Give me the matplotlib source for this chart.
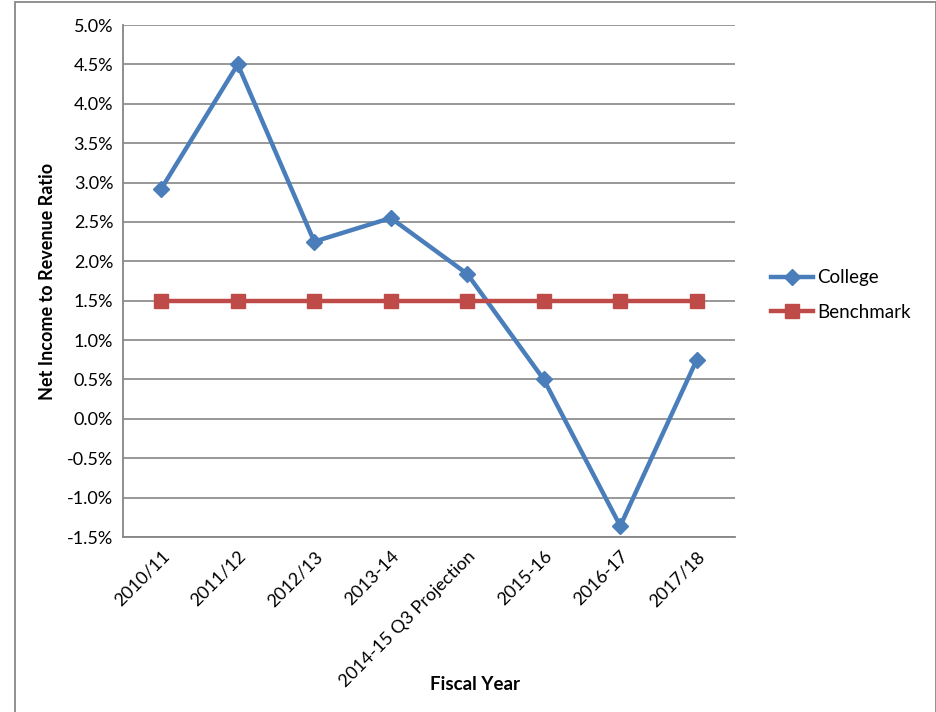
import matplotlib.pyplot as plt
from matplotlib.patches import Rectangle
from matplotlib.ticker import PercentFormatter

plt.rcParams['font.family'] = ['Lato', 'DejaVu Sans']
plt.rcParams['axes.unicode_minus'] = False

years = ["2010/11", "2011/12", "2012/13", "2013-14", "2014-15 Q3 Projection",
         "2015-16", "2016-17", "2017/18"]
college = [2.92, 4.50, 2.25, 2.55, 1.84, 0.50, -1.36, 0.75]
benchmark = [1.5, 1.5, 1.5, 1.5, 1.5, 1.5, 1.5, 1.5]
y_ticks = [-1.5, -1.0, -0.5, 0.0, 0.5, 1.0, 1.5, 2.0, 2.5, 3.0, 3.5, 4.0, 4.5, 5.0]

fig = plt.figure(figsize=(9.37, 7.12), dpi=100)
ax = fig.add_axes([123 / 937, 1 - 537 / 712, (735 - 123) / 937, (537 - 25) / 712])

# outer chart border
fig.patches.append(Rectangle((15 / 937, -0.01), (936 - 15) / 937, 1.0 - 2 / 712 + 0.01,
                             transform=fig.transFigure, fill=False,
                             edgecolor='#888888', linewidth=1.3))

x = list(range(len(years)))
ax.plot(x, college, color='#4A7EBB', linewidth=3.2, marker='D', markersize=8.5,
        label='College', zorder=3)
ax.plot(x, benchmark, color='#BE4B48', linewidth=3.2, marker='s', markersize=9.5,
        label='Benchmark', zorder=3)

ax.set_xlim(-0.5, 7.5)
ax.set_ylim(-1.5, 5.0)
ax.set_yticks(y_ticks)
ax.yaxis.set_major_formatter(PercentFormatter(decimals=1))
ax.set_xticks(x)
ax.set_xticklabels(years, rotation=45, ha='right', rotation_mode='anchor')
ax.tick_params(axis='both', length=0, labelsize=13, colors='black')
ax.tick_params(axis='y', pad=7)
ax.tick_params(axis='x', pad=8)

ax.grid(axis='y', color='#868686', linewidth=1.2)
ax.set_axisbelow(True)
for side in ['top', 'right']:
    ax.spines[side].set_visible(False)
for side in ['left', 'bottom']:
    ax.spines[side].set_color('#868686')
    ax.spines[side].set_linewidth(1.3)

ax.set_ylabel('Net Income to Revenue Ratio', fontsize=13, fontweight='bold', labelpad=8)
fig.text(475 / 937, 1 - 684 / 712, 'Fiscal Year', fontsize=13.5, fontweight='bold',
         ha='center', va='center')

fig.legend(loc='center left', bbox_to_anchor=(762 / 937, 1 - 295 / 712), frameon=False,
           fontsize=13.5, handlelength=2.2, handletextpad=0.25, labelspacing=0.95,
           borderpad=0)

fig.savefig('out.png', dpi=100)
